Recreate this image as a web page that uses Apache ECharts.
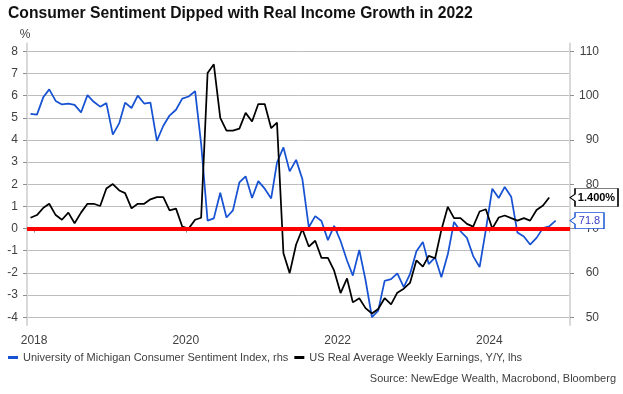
<!DOCTYPE html>
<html><head><meta charset="utf-8">
<script src="https://cdn.jsdelivr.net/npm/echarts@6/dist/echarts.min.js"></script>
<style>html,body{margin:0;padding:0;background:#fff}#c{width:623px;height:394px}</style>
</head><body><div id="c"></div>
<script>
// ---- data (monthly, first month = Dec 2017) ----
const firstMonth = '2017-12';
const sentimentName = 'University of Michigan Consumer Sentiment Index, rhs';
const earningsName = 'US Real Average Weekly Earnings, Y/Y, lhs';
// University of Michigan Consumer Sentiment (rhs), Dec 2017 .. Nov 2024
const sentiment = [95.9,
  95.7, 99.7, 101.4, 98.8, 98.0, 98.2, 97.9, 96.2, 100.1, 98.6, 97.5, 98.3,
  91.2, 93.8, 98.4, 97.2, 100.0, 98.2, 98.4, 89.8, 93.2, 95.5, 96.8, 99.3,
  99.8, 101.0, 89.1, 71.8, 72.3, 78.1, 72.5, 74.1, 80.4, 81.8, 76.9, 80.7,
  79.0, 76.8, 84.9, 88.3, 82.9, 85.5, 81.2, 70.3, 72.8, 71.7, 67.4, 70.6,
  67.2, 62.8, 59.4, 65.2, 58.4, 50.0, 51.5, 58.2, 58.6, 59.9, 56.8, 59.7,
  64.9, 67.0, 62.0, 63.5, 59.0, 64.2, 71.5, 69.4, 67.9, 63.8, 61.3, 69.7,
  79.0, 76.9, 79.4, 77.2, 69.1, 68.2, 66.4, 67.9, 70.1, 70.5, 71.8];
// US real average weekly earnings Y/Y % (lhs), Dec 2017 .. Oct 2024
const earnings = [0.49,
  0.61, 0.94, 1.12, 0.61, 0.40, 0.72, 0.24, 0.72, 1.12, 1.12, 1.02, 1.81,
  2.01, 1.72, 1.60, 0.91, 1.12, 1.12, 1.32, 1.42, 1.42, 0.82, 0.90, 0.09,
  0.00, 0.40, 0.49, 7.02, 7.41, 4.99, 4.42, 4.42, 4.51, 5.22, 4.83, 5.62,
  5.62, 4.53, 4.78, -1.11, -2.01, -0.72, -0.02, -0.81, -0.55, -1.32, -1.32, -1.90,
  -2.91, -2.25, -3.33, -3.14, -3.59, -3.83, -3.63, -3.14, -3.42, -2.89, -2.71, -2.45,
  -1.43, -1.72, -1.23, -1.34, -0.06, 0.98, 0.47, 0.47, 0.21, 0.09, 0.77, 0.87,
  0.00, 0.50, 0.59, 0.47, 0.36, 0.47, 0.36, 0.84, 1.04, 1.40];
const yearTicks = [2018, 2020, 2022, 2024];
const leftTicks = [-4, -3, -2, -1, 0, 1, 2, 3, 4, 5, 6, 7, 8];
const rightTicks = [50, 60, 70, 80, 90, 100, 110];
const xRange = ['2017-11-28', '2025-01-23'];
const leftRange = [-4.35, 8.35];
const rightRange = [48.25, 111.75];

// ---- helpers ----
const [fy, fm] = firstMonth.split('-').map(Number);
const monthTime = i => Date.UTC(fy, fm - 1 + i, 15);
const dayTime = s => { const [y, m, d] = s.split('-').map(Number); return Date.UTC(y, m - 1, d); };
const yearTime = y => Date.UTC(y, 0, 1);
const xMin = dayTime(xRange[0]), xMax = dayTime(xRange[1]);
const lastE = earnings[earnings.length - 1];
const lastS = sentiment[sentiment.length - 1];

const FONT = "'Liberation Sans', Arial, sans-serif";
const AXC = '#404040';
const BLUE = '#1652d2';

const chart = echarts.init(document.getElementById('c'), null, {renderer: 'canvas'});
chart.setOption({
  animation: false,
  backgroundColor: '#fff',
  textStyle: {fontFamily: FONT},
  title: [{
    text: 'Consumer Sentiment Dipped with Real Income Growth in 2022',
    left: 8, top: 6, padding: 0,
    textStyle: {fontSize: 15.7, fontWeight: 'bold', color: '#111', fontFamily: FONT}
  }, {
    text: 'Source: NewEdge Wealth, Macrobond, Bloomberg',
    right: 7, top: 373, padding: 0,
    textStyle: {fontSize: 11, fontWeight: 'normal', color: AXC, fontFamily: FONT}
  }],
  legend: {
    data: [sentimentName, earningsName],
    left: 8, top: 352, padding: 0,
    icon: 'rect', itemWidth: 10, itemHeight: 3, itemGap: 6,
    textStyle: {fontSize: 11, color: AXC, fontFamily: FONT}
  },
  grid: {left: 27, right: 53, top: 43.5, bottom: 69, containLabel: false},
  xAxis: {
    type: 'value', min: xMin, max: xMax,
    axisLine: {show: true, lineStyle: {color: '#d9d9d9', width: 2}},
    axisTick: {show: true, inside: false, length: 4, lineStyle: {color: '#909090', width: 1},
      customValues: yearTicks.map(yearTime)},
    axisLabel: {show: true, margin: 10, fontSize: 12, color: AXC, fontFamily: FONT,
      customValues: yearTicks.map(yearTime),
      formatter: v => String(new Date(v).getUTCFullYear())},
    splitLine: {show: false}
  },
  yAxis: [{
    type: 'value', position: 'left', min: leftRange[0], max: leftRange[1],
    name: '%', nameLocation: 'end', nameGap: 3,
    nameTextStyle: {fontSize: 12, color: AXC, fontFamily: FONT, align: 'center', padding: [0, 4, 0, 0]},
    axisLine: {show: true, lineStyle: {color: '#d9d9d9', width: 2}},
    axisTick: {show: true, inside: false, length: 4, lineStyle: {color: '#909090'}, customValues: leftTicks},
    axisLabel: {margin: 9, fontSize: 12, color: AXC, fontFamily: FONT, customValues: leftTicks},
    splitLine: {show: true, lineStyle: {color: '#bdbdbd', width: 1}}
  }, {
    type: 'value', position: 'right', min: rightRange[0], max: rightRange[1],
    axisLine: {show: true, lineStyle: {color: '#d9d9d9', width: 2}},
    axisTick: {show: true, inside: false, length: 4, lineStyle: {color: '#909090'}, customValues: rightTicks},
    axisLabel: {margin: 29, align: 'right', fontSize: 12, color: AXC, fontFamily: FONT, customValues: rightTicks},
    splitLine: {show: false}
  }],
  series: [{
    name: earningsName, type: 'line', yAxisIndex: 0, z: 3,
    data: earnings.map((v, i) => [monthTime(i), v]),
    symbol: 'none', showSymbol: false, color: '#000',
    lineStyle: {color: '#000', width: 1.75},
    markLine: {
      silent: true, symbol: 'none', z: 6, label: {show: false},
      lineStyle: {color: '#ff0000', width: 4, type: 'solid'},
      emphasis: {disabled: true},
      data: [{yAxis: 0}]
    },
    markPoint: {
      silent: true, z: 7,
      symbol: 'path://M0,9 L5,5.5 L5,0 L48,0 L48,18 L5,18 L5,12.5 Z',
      symbolSize: [48, 18], symbolOffset: [24, 0],
      itemStyle: {color: '#fff', borderColor: '#000', borderWidth: 1},
      label: {show: true, position: 'inside', offset: [2.5, 0.5], color: '#000', fontWeight: 'bold',
        fontSize: 11, fontFamily: FONT, formatter: p => Number(p.value).toFixed(3) + '%'},
      data: [{coord: [xMax, lastE], value: lastE}]
    }
  }, {
    name: sentimentName, type: 'line', yAxisIndex: 1, z: 2,
    data: sentiment.map((v, i) => [monthTime(i), v]),
    symbol: 'none', showSymbol: false, color: BLUE,
    lineStyle: {color: BLUE, width: 1.75},
    markPoint: {
      silent: true, z: 7,
      symbol: 'path://M0,8 L5,4.5 L5,0 L34,0 L34,16 L5,16 L5,11.5 Z',
      symbolSize: [34, 16], symbolOffset: [17, 0],
      itemStyle: {color: '#fff', borderColor: BLUE, borderWidth: 1},
      label: {show: true, position: 'inside', offset: [2.5, 0.5], color: '#3a3fc4',
        fontSize: 11, fontFamily: FONT, formatter: p => Number(p.value).toFixed(1)},
      data: [{coord: [xMax, lastS], value: lastS}]
    }
  }]
});
</script>
</body></html>
